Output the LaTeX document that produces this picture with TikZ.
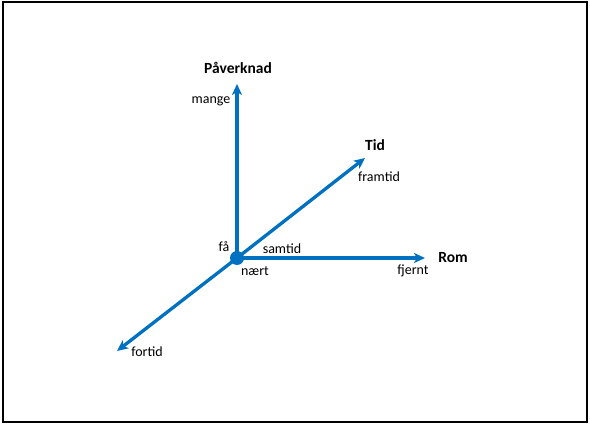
\documentclass[tikz,border=0pt]{standalone}
\usepackage{fontspec}
\setmainfont{Carlito}
\usetikzlibrary{arrows.meta}
\definecolor{axisblue}{HTML}{0070C0}
\tikzset{
  axis/.style={draw=axisblue, line width=3.3pt, -{Stealth[length=11pt,width=10pt,inset=3pt]}},
  lbl/.style={font=\fontsize{14}{16}\selectfont, inner sep=0pt},
  ttl/.style={font=\fontsize{15.5}{18}\selectfont\bfseries, inner sep=0pt},
  dot/.style={circle, fill=axisblue, minimum size=14pt, inner sep=0pt},
  frame/.style={draw=black, line width=2pt}
}
\begin{document}
\begin{tikzpicture}[x=1pt,y=-1pt]
  \useasboundingbox (0,0) rectangle (590,425);
  \draw[frame] (2.5,2.5) rectangle (586.5,421.5);
  \node[dot] (o) at (237,258) {};
  \coordinate (up) at (237,84);
  \coordinate (right) at (425,258);
  \coordinate (fwd) at (365,158);
  \coordinate (back) at (117,351);
  \draw[axis] (o.center) -- (up);
  \draw[axis] (o.center) -- (right);
  \draw[axis] (o.center) -- (fwd);
  \draw[axis] (o.center) -- (back);
  \node[ttl] (tP) at (238,68) {Påverknad};
  \node[ttl] (tT) at (375,145) {Tid};
  \node[ttl] (tR) at (453,258) {Rom};
  \node[lbl] (lm) at (211,101) {mange};
  \node[lbl] (lfr) at (379,177) {framtid};
  \node[lbl] (lfj) at (413,271) {fjernt};
  \node[lbl] (ls) at (282,249) {samtid};
  \node[lbl] (ln) at (255,271) {nært};
  \node[lbl] (lf) at (224,247) {få};
  \node[lbl] (lfo) at (147,352) {fortid};
\end{tikzpicture}
\end{document}
